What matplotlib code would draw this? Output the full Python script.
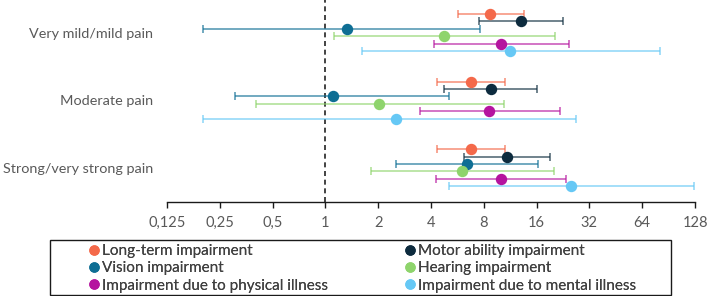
"""Odds ratios with 95% CI by pain level and impairment type."""
import matplotlib
matplotlib.use("Agg")
import matplotlib.pyplot as plt
from matplotlib.lines import Line2D
from matplotlib.patches import Rectangle

groups = ["Very mild/mild pain", "Moderate pain", "Strong/very strong pain"]
series = [
    "Long-term impairment",
    "Motor ability impairment",
    "Vision impairment",
    "Hearing impairment",
    "Impairment due to physical illness",
    "Impairment due to mental illness",
]
colors = ["#F4694A", "#0D2B3E", "#0E6E94", "#8ED46C", "#B5149F", "#66C8F5"]

longterm_est = [8.68, 6.76, 6.76]
longterm_lo = [5.68, 4.33, 4.33]
longterm_hi = [13.56, 10.6, 10.6]

motor_est = [13.0, 8.79, 10.8]
motor_lo = [7.51, 4.77, 6.17]
motor_hi = [22.6, 16.0, 19.0]

vision_est = [1.32, 1.11, 6.39]
vision_lo = [0.201, 0.304, 2.53]
vision_hi = [7.58, 5.05, 16.4]

hearing_est = [4.74, 2.01, 6.03]
hearing_lo = [1.115, 0.402, 1.82]
hearing_hi = [20.4, 10.48, 20.0]

physical_est = [9.99, 8.56, 9.99]
physical_lo = [4.16, 3.46, 4.25]
physical_hi = [24.5, 21.7, 23.5]

mental_est = [11.33, 2.53, 25.1]
mental_lo = [1.62, 0.201, 5.07]
mental_hi = [80.8, 26.9, 126.0]

xticks = [0.125, 0.25, 0.5, 1, 2, 4, 8, 16, 32, 64, 128]
xticklabels = ["0,125", "0,25", "0,5", "1", "2", "4", "8", "16", "32", "64", "128"]

plt.rcParams["font.family"] = ["Lato", "DejaVu Sans"]

data = [
    (longterm_est, longterm_lo, longterm_hi),
    (motor_est, motor_lo, motor_hi),
    (vision_est, vision_lo, vision_hi),
    (hearing_est, hearing_lo, hearing_hi),
    (physical_est, physical_lo, physical_hi),
    (mental_est, mental_lo, mental_hi),
]

fig = plt.figure(figsize=(7.08, 2.96), dpi=100)
ax = fig.add_axes([167 / 708, 1 - 202 / 296, 528 / 708, 202 / 296])

step = 0.109
for k, ((est, lo, hi), c) in enumerate(zip(data, colors)):
    ys = [g + (k - 2.5) * step for g in range(len(groups))]
    xerr = [[e - l for e, l in zip(est, lo)], [h - e for e, h in zip(est, hi)]]
    ax.errorbar(est, ys, xerr=xerr, fmt="none", ecolor=c, elinewidth=1.1,
                capsize=2.6, capthick=1.1, alpha=0.75, zorder=2)
    ax.plot(est, ys, "o", color=c, markersize=7.2, zorder=3, linestyle="none")

ax.axvline(1, color="#222222", linestyle=(0, (3, 2.2)), linewidth=1.2, zorder=1)

ax.set_xscale("log", base=2)
ax.set_xlim(0.125, 128)
ax.set_ylim(2.507, -0.481)
ax.set_xticks(xticks)
ax.set_xticklabels(xticklabels)
ax.minorticks_off()
ax.set_yticks(range(len(groups)))
ax.set_yticklabels(groups)

for s in ["left", "right", "top"]:
    ax.spines[s].set_visible(False)
ax.spines["bottom"].set_color("#1a1a1a")
ax.spines["bottom"].set_linewidth(1.0)
ax.tick_params(axis="x", length=4, width=1.0, color="#1a1a1a",
               labelsize=10.5, labelcolor="#595959", pad=6)
ax.tick_params(axis="y", length=0, labelsize=10.4, labelcolor="#595959", pad=10)

# legend: two frameless columns inside a drawn box
box = Rectangle((50 / 708, 1 / 296), 621 / 708, 55 / 296, transform=fig.transFigure,
                fill=False, edgecolor="#1a1a1a", linewidth=1.0)
fig.add_artist(box)


def handle(c, label):
    return Line2D([0], [0], marker="o", linestyle="", markersize=6.5,
                  markerfacecolor=c, markeredgecolor=c, label=label)


for col, x0 in enumerate([86 / 708, 402 / 708]):
    idx = [col, col + 2, col + 4]
    leg = fig.legend(handles=[handle(colors[i], series[i]) for i in idx],
                     loc="upper left", bbox_to_anchor=(x0, 1 - 241 / 296),
                     frameon=False, fontsize=11, handlelength=0.7,
                     handletextpad=0.15, labelspacing=0.22, borderpad=0.2,
                     borderaxespad=0, labelcolor="#404040")
    fig.add_artist(leg)

fig.savefig("out.png", dpi=100)
